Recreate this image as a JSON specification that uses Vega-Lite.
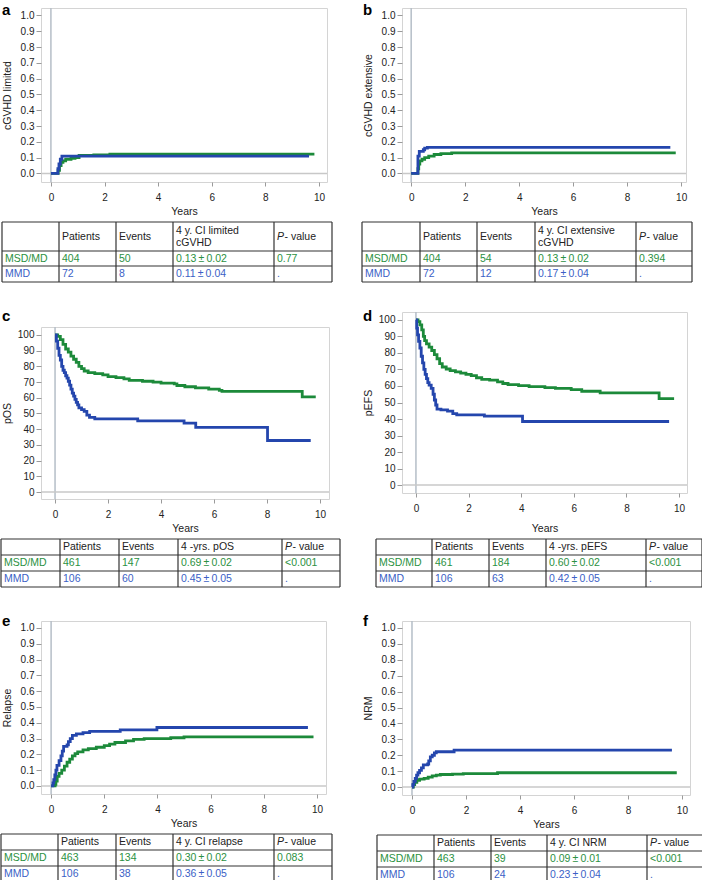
{
"$schema": "https://vega.github.io/schema/vega-lite/v6.json",
"background": "white",
"padding": {"left": 0, "top": 2, "right": 0, "bottom": 0},
"spacing": 20,
"resolve": {"scale": {"color": "independent"}},
"config": {
  "font": "Liberation Sans",
  "view": {"stroke": "#d4d4d4", "strokeWidth": 1},
  "axis": {"labelFont": "Liberation Sans", "titleFont": "Liberation Sans", "labelFontSize": 10, "titleFontSize": 10.5, "titleFontWeight": "normal", "labelColor": "#222", "titleColor": "#222", "domain": false, "grid": false, "tickColor": "#9a9a9a", "tickWidth": 1, "labelOverlap": false},
  "axisX": {"tickSize": 4, "labelPadding": 6, "titlePadding": 4},
  "axisY": {"tickSize": 5, "labelPadding": 2, "titlePadding": 5, "minExtent": 24, "maxExtent": 24},
  "title": {"font": "Liberation Sans", "fontSize": 15, "fontWeight": "bold", "color": "#000", "anchor": "start", "frame": "bounds", "baseline": "alphabetic", "offset": 0}
},
"datasets": {
  "one": [{"k": 1}],
  "vb": [{"b": 0}, {"b": 1}, {"b": 2}, {"b": 3}, {"b": 4}, {"b": 5}],
  "hb": [{"b": -0.5}, {"b": 0.5}, {"b": 1.5}, {"b": 2.5}],
  "cells": [
    {"p":"a","r":0,"c":1,"s":"Patients","k":"h"},{"p":"a","r":0,"c":2,"s":"Events","k":"h"},{"p":"a","r":0,"c":3,"s":"4 y. CI limited\ncGVHD","k":"h2"},{"p":"a","r":0,"c":4,"s":"P","k":"hi"},{"p":"a","r":0,"c":4,"s":"- value","k":"hv"},
    {"p":"a","r":1,"c":0,"s":"MSD/MD","k":"g"},{"p":"a","r":1,"c":1,"s":"404","k":"g"},{"p":"a","r":1,"c":2,"s":"50","k":"g"},{"p":"a","r":1,"c":3,"s":"0.13\u2009±\u20090.02","k":"g"},{"p":"a","r":1,"c":4,"s":"0.77","k":"g"},
    {"p":"a","r":2,"c":0,"s":"MMD","k":"b"},{"p":"a","r":2,"c":1,"s":"72","k":"b"},{"p":"a","r":2,"c":2,"s":"8","k":"b"},{"p":"a","r":2,"c":3,"s":"0.11\u2009±\u20090.04","k":"b"},{"p":"a","r":2,"c":4,"s":".","k":"b"},
    {"p":"b","r":0,"c":1,"s":"Patients","k":"h"},{"p":"b","r":0,"c":2,"s":"Events","k":"h"},{"p":"b","r":0,"c":3,"s":"4 y. CI extensive\ncGVHD","k":"h2"},{"p":"b","r":0,"c":4,"s":"P","k":"hi"},{"p":"b","r":0,"c":4,"s":"- value","k":"hv"},
    {"p":"b","r":1,"c":0,"s":"MSD/MD","k":"g"},{"p":"b","r":1,"c":1,"s":"404","k":"g"},{"p":"b","r":1,"c":2,"s":"54","k":"g"},{"p":"b","r":1,"c":3,"s":"0.13\u2009±\u20090.02","k":"g"},{"p":"b","r":1,"c":4,"s":"0.394","k":"g"},
    {"p":"b","r":2,"c":0,"s":"MMD","k":"b"},{"p":"b","r":2,"c":1,"s":"72","k":"b"},{"p":"b","r":2,"c":2,"s":"12","k":"b"},{"p":"b","r":2,"c":3,"s":"0.17\u2009±\u20090.04","k":"b"},{"p":"b","r":2,"c":4,"s":".","k":"b"},
    {"p":"c","r":0,"c":1,"s":"Patients","k":"h"},{"p":"c","r":0,"c":2,"s":"Events","k":"h"},{"p":"c","r":0,"c":3,"s":"4 -yrs. pOS","k":"h"},{"p":"c","r":0,"c":4,"s":"P","k":"hi"},{"p":"c","r":0,"c":4,"s":"- value","k":"hv"},
    {"p":"c","r":1,"c":0,"s":"MSD/MD","k":"g"},{"p":"c","r":1,"c":1,"s":"461","k":"g"},{"p":"c","r":1,"c":2,"s":"147","k":"g"},{"p":"c","r":1,"c":3,"s":"0.69\u2009±\u20090.02","k":"g"},{"p":"c","r":1,"c":4,"s":"<0.001","k":"g"},
    {"p":"c","r":2,"c":0,"s":"MMD","k":"b"},{"p":"c","r":2,"c":1,"s":"106","k":"b"},{"p":"c","r":2,"c":2,"s":"60","k":"b"},{"p":"c","r":2,"c":3,"s":"0.45\u2009±\u20090.05","k":"b"},{"p":"c","r":2,"c":4,"s":".","k":"b"},
    {"p":"d","r":0,"c":1,"s":"Patients","k":"h"},{"p":"d","r":0,"c":2,"s":"Events","k":"h"},{"p":"d","r":0,"c":3,"s":"4 -yrs. pEFS","k":"h"},{"p":"d","r":0,"c":4,"s":"P","k":"hi"},{"p":"d","r":0,"c":4,"s":"- value","k":"hv"},
    {"p":"d","r":1,"c":0,"s":"MSD/MD","k":"g"},{"p":"d","r":1,"c":1,"s":"461","k":"g"},{"p":"d","r":1,"c":2,"s":"184","k":"g"},{"p":"d","r":1,"c":3,"s":"0.60\u2009±\u20090.02","k":"g"},{"p":"d","r":1,"c":4,"s":"<0.001","k":"g"},
    {"p":"d","r":2,"c":0,"s":"MMD","k":"b"},{"p":"d","r":2,"c":1,"s":"106","k":"b"},{"p":"d","r":2,"c":2,"s":"63","k":"b"},{"p":"d","r":2,"c":3,"s":"0.42\u2009±\u20090.05","k":"b"},{"p":"d","r":2,"c":4,"s":".","k":"b"},
    {"p":"e","r":0,"c":1,"s":"Patients","k":"h"},{"p":"e","r":0,"c":2,"s":"Events","k":"h"},{"p":"e","r":0,"c":3,"s":"4 y. CI relapse","k":"h"},{"p":"e","r":0,"c":4,"s":"P","k":"hi"},{"p":"e","r":0,"c":4,"s":"- value","k":"hv"},
    {"p":"e","r":1,"c":0,"s":"MSD/MD","k":"g"},{"p":"e","r":1,"c":1,"s":"463","k":"g"},{"p":"e","r":1,"c":2,"s":"134","k":"g"},{"p":"e","r":1,"c":3,"s":"0.30\u2009±\u20090.02","k":"g"},{"p":"e","r":1,"c":4,"s":"0.083","k":"g"},
    {"p":"e","r":2,"c":0,"s":"MMD","k":"b"},{"p":"e","r":2,"c":1,"s":"106","k":"b"},{"p":"e","r":2,"c":2,"s":"38","k":"b"},{"p":"e","r":2,"c":3,"s":"0.36\u2009±\u20090.05","k":"b"},{"p":"e","r":2,"c":4,"s":".","k":"b"},
    {"p":"f","r":0,"c":1,"s":"Patients","k":"h"},{"p":"f","r":0,"c":2,"s":"Events","k":"h"},{"p":"f","r":0,"c":3,"s":"4 y. CI NRM","k":"h"},{"p":"f","r":0,"c":4,"s":"P","k":"hi"},{"p":"f","r":0,"c":4,"s":"- value","k":"hv"},
    {"p":"f","r":1,"c":0,"s":"MSD/MD","k":"g"},{"p":"f","r":1,"c":1,"s":"463","k":"g"},{"p":"f","r":1,"c":2,"s":"39","k":"g"},{"p":"f","r":1,"c":3,"s":"0.09\u2009±\u20090.01","k":"g"},{"p":"f","r":1,"c":4,"s":"<0.001","k":"g"},
    {"p":"f","r":2,"c":0,"s":"MMD","k":"b"},{"p":"f","r":2,"c":1,"s":"106","k":"b"},{"p":"f","r":2,"c":2,"s":"24","k":"b"},{"p":"f","r":2,"c":3,"s":"0.23\u2009±\u20090.04","k":"b"},{"p":"f","r":2,"c":4,"s":".","k":"b"}
  ],
  "curves": [
    {"p":"a","g":"MSD/MD","t":0,"v":0},{"p":"a","g":"MSD/MD","t":0.27,"v":0.02},{"p":"a","g":"MSD/MD","t":0.32,"v":0.05},{"p":"a","g":"MSD/MD","t":0.38,"v":0.07},{"p":"a","g":"MSD/MD","t":0.45,"v":0.08},{"p":"a","g":"MSD/MD","t":0.55,"v":0.09},{"p":"a","g":"MSD/MD","t":0.75,"v":0.095},{"p":"a","g":"MSD/MD","t":0.9,"v":0.1},{"p":"a","g":"MSD/MD","t":1.05,"v":0.115},{"p":"a","g":"MSD/MD","t":1.6,"v":0.118},{"p":"a","g":"MSD/MD","t":2.2,"v":0.123},{"p":"a","g":"MSD/MD","t":9.83,"v":0.123},
    {"p":"a","g":"MMD","t":0,"v":0},{"p":"a","g":"MMD","t":0.26,"v":0.03},{"p":"a","g":"MMD","t":0.3,"v":0.06},{"p":"a","g":"MMD","t":0.35,"v":0.09},{"p":"a","g":"MMD","t":0.41,"v":0.11},{"p":"a","g":"MMD","t":9.63,"v":0.11},
    {"p":"b","g":"MSD/MD","t":0,"v":0},{"p":"b","g":"MSD/MD","t":0.25,"v":0.03},{"p":"b","g":"MSD/MD","t":0.28,"v":0.06},{"p":"b","g":"MSD/MD","t":0.32,"v":0.08},{"p":"b","g":"MSD/MD","t":0.4,"v":0.09},{"p":"b","g":"MSD/MD","t":0.5,"v":0.1},{"p":"b","g":"MSD/MD","t":0.65,"v":0.11},{"p":"b","g":"MSD/MD","t":0.85,"v":0.12},{"p":"b","g":"MSD/MD","t":1.1,"v":0.125},{"p":"b","g":"MSD/MD","t":1.5,"v":0.13},{"p":"b","g":"MSD/MD","t":9.8,"v":0.13},
    {"p":"b","g":"MMD","t":0,"v":0},{"p":"b","g":"MMD","t":0.25,"v":0.11},{"p":"b","g":"MMD","t":0.3,"v":0.14},{"p":"b","g":"MMD","t":0.45,"v":0.15},{"p":"b","g":"MMD","t":0.5,"v":0.16},{"p":"b","g":"MMD","t":0.6,"v":0.165},{"p":"b","g":"MMD","t":9.6,"v":0.165},
    {"p":"c","g":"MSD/MD","t":0,"v":100},{"p":"c","g":"MSD/MD","t":0.1,"v":99},{"p":"c","g":"MSD/MD","t":0.2,"v":97},{"p":"c","g":"MSD/MD","t":0.3,"v":94},{"p":"c","g":"MSD/MD","t":0.4,"v":91},{"p":"c","g":"MSD/MD","t":0.5,"v":89},{"p":"c","g":"MSD/MD","t":0.6,"v":86.5},{"p":"c","g":"MSD/MD","t":0.7,"v":84.5},{"p":"c","g":"MSD/MD","t":0.8,"v":82.5},{"p":"c","g":"MSD/MD","t":0.9,"v":80},{"p":"c","g":"MSD/MD","t":1.0,"v":78.5},{"p":"c","g":"MSD/MD","t":1.1,"v":77},{"p":"c","g":"MSD/MD","t":1.25,"v":76},{"p":"c","g":"MSD/MD","t":1.5,"v":75.3},{"p":"c","g":"MSD/MD","t":1.8,"v":74.5},{"p":"c","g":"MSD/MD","t":2.0,"v":73.5},{"p":"c","g":"MSD/MD","t":2.3,"v":72.8},{"p":"c","g":"MSD/MD","t":2.6,"v":72},{"p":"c","g":"MSD/MD","t":2.8,"v":71},{"p":"c","g":"MSD/MD","t":3.3,"v":70.5},{"p":"c","g":"MSD/MD","t":3.7,"v":70},{"p":"c","g":"MSD/MD","t":4.0,"v":69.3},{"p":"c","g":"MSD/MD","t":4.5,"v":68.8},{"p":"c","g":"MSD/MD","t":4.6,"v":67.8},{"p":"c","g":"MSD/MD","t":4.9,"v":67},{"p":"c","g":"MSD/MD","t":5.3,"v":66.3},{"p":"c","g":"MSD/MD","t":5.8,"v":65.5},{"p":"c","g":"MSD/MD","t":6.2,"v":64.7},{"p":"c","g":"MSD/MD","t":6.3,"v":64},{"p":"c","g":"MSD/MD","t":9.33,"v":60.5},{"p":"c","g":"MSD/MD","t":9.84,"v":60.5},
    {"p":"c","g":"MMD","t":0,"v":100},{"p":"c","g":"MMD","t":0.05,"v":96},{"p":"c","g":"MMD","t":0.1,"v":91.5},{"p":"c","g":"MMD","t":0.15,"v":87},{"p":"c","g":"MMD","t":0.2,"v":84},{"p":"c","g":"MMD","t":0.25,"v":80},{"p":"c","g":"MMD","t":0.3,"v":77.5},{"p":"c","g":"MMD","t":0.35,"v":76},{"p":"c","g":"MMD","t":0.4,"v":74},{"p":"c","g":"MMD","t":0.45,"v":72.5},{"p":"c","g":"MMD","t":0.5,"v":70.5},{"p":"c","g":"MMD","t":0.55,"v":68},{"p":"c","g":"MMD","t":0.6,"v":65.5},{"p":"c","g":"MMD","t":0.65,"v":63},{"p":"c","g":"MMD","t":0.7,"v":61},{"p":"c","g":"MMD","t":0.75,"v":59},{"p":"c","g":"MMD","t":0.8,"v":57},{"p":"c","g":"MMD","t":0.85,"v":55.5},{"p":"c","g":"MMD","t":0.9,"v":53.5},{"p":"c","g":"MMD","t":1.0,"v":52.5},{"p":"c","g":"MMD","t":1.1,"v":51.3},{"p":"c","g":"MMD","t":1.2,"v":49},{"p":"c","g":"MMD","t":1.3,"v":47.5},{"p":"c","g":"MMD","t":1.5,"v":46.6},{"p":"c","g":"MMD","t":3.12,"v":45.3},{"p":"c","g":"MMD","t":4.87,"v":43.9},{"p":"c","g":"MMD","t":5.31,"v":41.1},{"p":"c","g":"MMD","t":8.02,"v":32.8},{"p":"c","g":"MMD","t":9.65,"v":32.8},
    {"p":"d","g":"MSD/MD","t":0,"v":100},{"p":"d","g":"MSD/MD","t":0.08,"v":99},{"p":"d","g":"MSD/MD","t":0.15,"v":97},{"p":"d","g":"MSD/MD","t":0.22,"v":94},{"p":"d","g":"MSD/MD","t":0.28,"v":90},{"p":"d","g":"MSD/MD","t":0.33,"v":87.5},{"p":"d","g":"MSD/MD","t":0.4,"v":85.5},{"p":"d","g":"MSD/MD","t":0.5,"v":83.5},{"p":"d","g":"MSD/MD","t":0.6,"v":81.5},{"p":"d","g":"MSD/MD","t":0.7,"v":79},{"p":"d","g":"MSD/MD","t":0.8,"v":76.5},{"p":"d","g":"MSD/MD","t":0.9,"v":73.5},{"p":"d","g":"MSD/MD","t":1.0,"v":71.5},{"p":"d","g":"MSD/MD","t":1.15,"v":70.3},{"p":"d","g":"MSD/MD","t":1.3,"v":69.3},{"p":"d","g":"MSD/MD","t":1.5,"v":68.5},{"p":"d","g":"MSD/MD","t":1.7,"v":67.8},{"p":"d","g":"MSD/MD","t":1.9,"v":67},{"p":"d","g":"MSD/MD","t":2.1,"v":66.3},{"p":"d","g":"MSD/MD","t":2.3,"v":65},{"p":"d","g":"MSD/MD","t":2.5,"v":64},{"p":"d","g":"MSD/MD","t":2.8,"v":63.5},{"p":"d","g":"MSD/MD","t":3.1,"v":62.5},{"p":"d","g":"MSD/MD","t":3.3,"v":61.5},{"p":"d","g":"MSD/MD","t":3.5,"v":60.8},{"p":"d","g":"MSD/MD","t":3.9,"v":60.2},{"p":"d","g":"MSD/MD","t":4.3,"v":59.6},{"p":"d","g":"MSD/MD","t":4.9,"v":59},{"p":"d","g":"MSD/MD","t":5.3,"v":58.5},{"p":"d","g":"MSD/MD","t":5.9,"v":57.8},{"p":"d","g":"MSD/MD","t":6.3,"v":56.8},{"p":"d","g":"MSD/MD","t":7.0,"v":55.8},{"p":"d","g":"MSD/MD","t":9.24,"v":52.3},{"p":"d","g":"MSD/MD","t":9.81,"v":52.3},
    {"p":"d","g":"MMD","t":0,"v":100},{"p":"d","g":"MMD","t":0.03,"v":95},{"p":"d","g":"MMD","t":0.06,"v":91},{"p":"d","g":"MMD","t":0.1,"v":87},{"p":"d","g":"MMD","t":0.15,"v":83},{"p":"d","g":"MMD","t":0.2,"v":78},{"p":"d","g":"MMD","t":0.25,"v":74},{"p":"d","g":"MMD","t":0.3,"v":70},{"p":"d","g":"MMD","t":0.35,"v":67},{"p":"d","g":"MMD","t":0.4,"v":64.5},{"p":"d","g":"MMD","t":0.45,"v":62},{"p":"d","g":"MMD","t":0.5,"v":60.5},{"p":"d","g":"MMD","t":0.58,"v":58.5},{"p":"d","g":"MMD","t":0.65,"v":55},{"p":"d","g":"MMD","t":0.7,"v":51.5},{"p":"d","g":"MMD","t":0.75,"v":48.5},{"p":"d","g":"MMD","t":0.8,"v":46},{"p":"d","g":"MMD","t":0.95,"v":45.5},{"p":"d","g":"MMD","t":1.2,"v":44.8},{"p":"d","g":"MMD","t":1.4,"v":43.3},{"p":"d","g":"MMD","t":1.55,"v":42.5},{"p":"d","g":"MMD","t":2.6,"v":41.8},{"p":"d","g":"MMD","t":4.05,"v":38.5},{"p":"d","g":"MMD","t":9.62,"v":38.5},
    {"p":"e","g":"MSD/MD","t":0,"v":0},{"p":"e","g":"MSD/MD","t":0.15,"v":0.01},{"p":"e","g":"MSD/MD","t":0.18,"v":0.03},{"p":"e","g":"MSD/MD","t":0.23,"v":0.06},{"p":"e","g":"MSD/MD","t":0.3,"v":0.08},{"p":"e","g":"MSD/MD","t":0.4,"v":0.1},{"p":"e","g":"MSD/MD","t":0.5,"v":0.125},{"p":"e","g":"MSD/MD","t":0.6,"v":0.15},{"p":"e","g":"MSD/MD","t":0.7,"v":0.17},{"p":"e","g":"MSD/MD","t":0.8,"v":0.19},{"p":"e","g":"MSD/MD","t":0.9,"v":0.205},{"p":"e","g":"MSD/MD","t":1.0,"v":0.215},{"p":"e","g":"MSD/MD","t":1.2,"v":0.228},{"p":"e","g":"MSD/MD","t":1.4,"v":0.236},{"p":"e","g":"MSD/MD","t":1.7,"v":0.245},{"p":"e","g":"MSD/MD","t":2.0,"v":0.255},{"p":"e","g":"MSD/MD","t":2.2,"v":0.265},{"p":"e","g":"MSD/MD","t":2.4,"v":0.275},{"p":"e","g":"MSD/MD","t":2.8,"v":0.285},{"p":"e","g":"MSD/MD","t":3.1,"v":0.295},{"p":"e","g":"MSD/MD","t":3.5,"v":0.3},{"p":"e","g":"MSD/MD","t":4.5,"v":0.305},{"p":"e","g":"MSD/MD","t":5.0,"v":0.31},{"p":"e","g":"MSD/MD","t":9.87,"v":0.31},
    {"p":"e","g":"MMD","t":0,"v":0},{"p":"e","g":"MMD","t":0.07,"v":0.02},{"p":"e","g":"MMD","t":0.1,"v":0.04},{"p":"e","g":"MMD","t":0.14,"v":0.07},{"p":"e","g":"MMD","t":0.18,"v":0.1},{"p":"e","g":"MMD","t":0.22,"v":0.13},{"p":"e","g":"MMD","t":0.3,"v":0.16},{"p":"e","g":"MMD","t":0.37,"v":0.19},{"p":"e","g":"MMD","t":0.42,"v":0.22},{"p":"e","g":"MMD","t":0.47,"v":0.25},{"p":"e","g":"MMD","t":0.6,"v":0.26},{"p":"e","g":"MMD","t":0.65,"v":0.28},{"p":"e","g":"MMD","t":0.72,"v":0.3},{"p":"e","g":"MMD","t":0.8,"v":0.32},{"p":"e","g":"MMD","t":0.95,"v":0.33},{"p":"e","g":"MMD","t":1.2,"v":0.338},{"p":"e","g":"MMD","t":1.45,"v":0.345},{"p":"e","g":"MMD","t":2.6,"v":0.355},{"p":"e","g":"MMD","t":3.98,"v":0.37},{"p":"e","g":"MMD","t":9.66,"v":0.37},
    {"p":"f","g":"MSD/MD","t":0,"v":0},{"p":"f","g":"MSD/MD","t":0.05,"v":0.015},{"p":"f","g":"MSD/MD","t":0.1,"v":0.03},{"p":"f","g":"MSD/MD","t":0.18,"v":0.042},{"p":"f","g":"MSD/MD","t":0.28,"v":0.05},{"p":"f","g":"MSD/MD","t":0.45,"v":0.055},{"p":"f","g":"MSD/MD","t":0.6,"v":0.063},{"p":"f","g":"MSD/MD","t":0.75,"v":0.07},{"p":"f","g":"MSD/MD","t":0.9,"v":0.075},{"p":"f","g":"MSD/MD","t":1.05,"v":0.079},{"p":"f","g":"MSD/MD","t":1.5,"v":0.081},{"p":"f","g":"MSD/MD","t":1.9,"v":0.085},{"p":"f","g":"MSD/MD","t":3.17,"v":0.09},{"p":"f","g":"MSD/MD","t":9.81,"v":0.09},
    {"p":"f","g":"MMD","t":0,"v":0},{"p":"f","g":"MMD","t":0.03,"v":0.015},{"p":"f","g":"MMD","t":0.07,"v":0.035},{"p":"f","g":"MMD","t":0.12,"v":0.055},{"p":"f","g":"MMD","t":0.17,"v":0.075},{"p":"f","g":"MMD","t":0.22,"v":0.09},{"p":"f","g":"MMD","t":0.28,"v":0.105},{"p":"f","g":"MMD","t":0.35,"v":0.12},{"p":"f","g":"MMD","t":0.42,"v":0.14},{"p":"f","g":"MMD","t":0.58,"v":0.145},{"p":"f","g":"MMD","t":0.62,"v":0.165},{"p":"f","g":"MMD","t":0.68,"v":0.19},{"p":"f","g":"MMD","t":0.75,"v":0.2},{"p":"f","g":"MMD","t":0.83,"v":0.215},{"p":"f","g":"MMD","t":0.9,"v":0.222},{"p":"f","g":"MMD","t":1.56,"v":0.232},{"p":"f","g":"MMD","t":9.63,"v":0.232}
  ]
},
"hconcat": [
{"spacing": 25, "resolve": {"scale": {"color": "independent"}}, "vconcat": [
  {"spacing": 4, "resolve": {"scale": {"color": "independent"}}, "vconcat": [
    {"width": 286, "height": 174, "title": {"text": "a", "dy": 15},
     "resolve": {"axis": {"x": "independent", "y": "independent"}},
     "layer": [
      {"data": {"name": "one"}, "mark": {"type": "rule", "color": "#b5bec7", "strokeWidth": 1.5}, "encoding": {"x": {"datum": 0, "type": "quantitative", "scale": {"domain": [-0.37, 10.3], "nice": false, "zero": false}, "axis": null}}},
      {"data": {"name": "one"}, "mark": {"type": "rule", "color": "#c8c8c8", "strokeWidth": 1.5}, "encoding": {"y": {"datum": 0, "type": "quantitative", "scale": {"domain": [-0.054, 1.047], "nice": false, "zero": false}, "axis": null}}},
      {"data": {"name": "curves"}, "transform": [{"filter": "datum.p==='a'"}], "mark": {"type": "line", "interpolate": "step-after", "strokeWidth": 2.8},
       "encoding": {
        "x": {"field": "t", "type": "quantitative", "scale": {"domain": [-0.37, 10.3], "nice": false, "zero": false}, "axis": {"title": "Years", "values": [0, 2, 4, 6, 8, 10], "tickCount": 6, "format": "d", "titleFontWeight": "normal"}},
        "y": {"field": "v", "type": "quantitative", "scale": {"domain": [-0.054, 1.047], "nice": false, "zero": false}, "axis": {"title": "cGVHD limited", "values": [0, 0.1, 0.2, 0.3, 0.4, 0.5, 0.6, 0.7, 0.8, 0.9, 1.0], "tickCount": 11, "format": ".1f", "labelOverlap": false, "titleFontWeight": "normal"}},
        "color": {"field": "g", "type": "nominal", "scale": {"domain": ["MSD/MD", "MMD"], "range": ["#1c8a3a", "#2446ad"]}, "legend": null}}}
     ]},
    {"width": 291, "height": 60, "view": {"stroke": null},
     "layer": [
      {"data": {"name": "vb"}, "mark": {"type": "rule", "color": "#333", "strokeWidth": 1.2},
       "encoding": {"x": {"field": "b", "type": "quantitative", "scale": {"domain": [0,1,2,3,4,5], "range": [-39,18,75,132,233,291], "nice": false, "zero": false}, "axis": null},
                    "y": {"datum": -0.5, "type": "quantitative", "scale": {"domain": [-0.5,0.5,1.5,2.5], "range": [0,29,44,60], "nice": false, "zero": false}, "axis": null}, "y2": {"datum": 2.5}}},
      {"data": {"name": "hb"}, "mark": {"type": "rule", "color": "#333", "strokeWidth": 1.2},
       "encoding": {"y": {"field": "b", "type": "quantitative", "scale": {"domain": [-0.5,0.5,1.5,2.5], "range": [0,29,44,60], "nice": false, "zero": false}, "axis": null},
                    "x": {"datum": 0, "type": "quantitative", "scale": {"domain": [0,1,2,3,4,5], "range": [-39,18,75,132,233,291], "nice": false, "zero": false}, "axis": null}, "x2": {"datum": 5}}},
      {"data": {"name": "cells"}, "transform": [{"filter": "datum.p==='a' && (datum.k==='h' || datum.k==='g' || datum.k==='b')"}],
       "mark": {"type": "text", "align": "left", "baseline": "middle", "dx": 3, "fontSize": 10.5},
       "encoding": {"x": {"field": "c", "type": "quantitative", "scale": {"domain": [0,1,2,3,4,5], "range": [-39,18,75,132,233,291], "nice": false, "zero": false}, "axis": null},
                    "y": {"field": "r", "type": "quantitative", "scale": {"domain": [-0.5,0.5,1.5,2.5], "range": [0,29,44,60], "nice": false, "zero": false}, "axis": null},
                    "text": {"field": "s"}, "color": {"field": "k", "type": "nominal", "scale": {"domain": ["h", "g", "b"], "range": ["#222222", "#2b9142", "#3b5fc6"]}, "legend": null}}},
      {"data": {"name": "cells"}, "transform": [{"filter": "datum.p==='a' && datum.k==='h2'"}],
       "mark": {"type": "text", "align": "left", "baseline": "middle", "dx": 3, "dy": -6, "fontSize": 10.5, "lineBreak": "\n", "lineHeight": 12, "color": "#222"},
       "encoding": {"x": {"field": "c", "type": "quantitative", "scale": {"domain": [0,1,2,3,4,5], "range": [-39,18,75,132,233,291], "nice": false, "zero": false}, "axis": null},
                    "y": {"field": "r", "type": "quantitative", "scale": {"domain": [-0.5,0.5,1.5,2.5], "range": [0,29,44,60], "nice": false, "zero": false}, "axis": null}, "text": {"field": "s"}}},
      {"data": {"name": "cells"}, "transform": [{"filter": "datum.p==='a' && datum.k==='hi'"}],
       "mark": {"type": "text", "align": "left", "baseline": "middle", "dx": 3, "fontSize": 10.5, "fontStyle": "italic", "color": "#222"},
       "encoding": {"x": {"field": "c", "type": "quantitative", "scale": {"domain": [0,1,2,3,4,5], "range": [-39,18,75,132,233,291], "nice": false, "zero": false}, "axis": null},
                    "y": {"field": "r", "type": "quantitative", "scale": {"domain": [-0.5,0.5,1.5,2.5], "range": [0,29,44,60], "nice": false, "zero": false}, "axis": null}, "text": {"field": "s"}}},
      {"data": {"name": "cells"}, "transform": [{"filter": "datum.p==='a' && datum.k==='hv'"}],
       "mark": {"type": "text", "align": "left", "baseline": "middle", "dx": 10.5, "fontSize": 10.5, "color": "#222"},
       "encoding": {"x": {"field": "c", "type": "quantitative", "scale": {"domain": [0,1,2,3,4,5], "range": [-39,18,75,132,233,291], "nice": false, "zero": false}, "axis": null},
                    "y": {"field": "r", "type": "quantitative", "scale": {"domain": [-0.5,0.5,1.5,2.5], "range": [0,29,44,60], "nice": false, "zero": false}, "axis": null}, "text": {"field": "s"}}}
     ]}
  ]},
  {"spacing": 4, "resolve": {"scale": {"color": "independent"}}, "vconcat": [
    {"width": 288, "height": 172, "title": {"text": "c", "dy": 2},
     "resolve": {"axis": {"x": "independent", "y": "independent"}},
     "layer": [
      {"data": {"name": "one"}, "mark": {"type": "rule", "color": "#b5bec7", "strokeWidth": 1.5}, "encoding": {"x": {"datum": 0, "type": "quantitative", "scale": {"domain": [-0.53, 10.34], "nice": false, "zero": false}, "axis": null}}},
      {"data": {"name": "one"}, "mark": {"type": "rule", "color": "#c8c8c8", "strokeWidth": 1.5}, "encoding": {"y": {"datum": 0, "type": "quantitative", "scale": {"domain": [-4.4, 105], "nice": false, "zero": false}, "axis": null}}},
      {"data": {"name": "curves"}, "transform": [{"filter": "datum.p==='c'"}], "mark": {"type": "line", "interpolate": "step-after", "strokeWidth": 2.8},
       "encoding": {
        "x": {"field": "t", "type": "quantitative", "scale": {"domain": [-0.53, 10.34], "nice": false, "zero": false}, "axis": {"title": "Years", "values": [0, 2, 4, 6, 8, 10], "tickCount": 6, "format": "d", "titleFontWeight": "normal"}},
        "y": {"field": "v", "type": "quantitative", "scale": {"domain": [-4.4, 105], "nice": false, "zero": false}, "axis": {"title": "pOS", "values": [0, 10, 20, 30, 40, 50, 60, 70, 80, 90, 100], "tickCount": 11, "format": "d", "labelOverlap": false, "titleFontWeight": "normal"}},
        "color": {"field": "g", "type": "nominal", "scale": {"domain": ["MSD/MD", "MMD"], "range": ["#1c8a3a", "#2446ad"]}, "legend": null}}}
     ]},
    {"width": 299, "height": 48, "view": {"stroke": null},
     "layer": [
      {"data": {"name": "vb"}, "mark": {"type": "rule", "color": "#333", "strokeWidth": 1.2},
       "encoding": {"x": {"field": "b", "type": "quantitative", "scale": {"domain": [0,1,2,3,4,5], "range": [-40,19,78,137,241,299], "nice": false, "zero": false}, "axis": null},
                    "y": {"datum": -0.5, "type": "quantitative", "scale": {"domain": [-0.5,2.5], "range": [0,48], "nice": false, "zero": false}, "axis": null}, "y2": {"datum": 2.5}}},
      {"data": {"name": "hb"}, "mark": {"type": "rule", "color": "#333", "strokeWidth": 1.2},
       "encoding": {"y": {"field": "b", "type": "quantitative", "scale": {"domain": [-0.5,2.5], "range": [0,48], "nice": false, "zero": false}, "axis": null},
                    "x": {"datum": 0, "type": "quantitative", "scale": {"domain": [0,1,2,3,4,5], "range": [-40,19,78,137,241,299], "nice": false, "zero": false}, "axis": null}, "x2": {"datum": 5}}},
      {"data": {"name": "cells"}, "transform": [{"filter": "datum.p==='c' && (datum.k==='h' || datum.k==='g' || datum.k==='b')"}],
       "mark": {"type": "text", "align": "left", "baseline": "middle", "dx": 3, "fontSize": 10.5},
       "encoding": {"x": {"field": "c", "type": "quantitative", "scale": {"domain": [0,1,2,3,4,5], "range": [-40,19,78,137,241,299], "nice": false, "zero": false}, "axis": null},
                    "y": {"field": "r", "type": "quantitative", "scale": {"domain": [-0.5,2.5], "range": [0,48], "nice": false, "zero": false}, "axis": null},
                    "text": {"field": "s"}, "color": {"field": "k", "type": "nominal", "scale": {"domain": ["h", "g", "b"], "range": ["#222222", "#2b9142", "#3b5fc6"]}, "legend": null}}},
      {"data": {"name": "cells"}, "transform": [{"filter": "datum.p==='c' && datum.k==='hi'"}],
       "mark": {"type": "text", "align": "left", "baseline": "middle", "dx": 3, "fontSize": 10.5, "fontStyle": "italic", "color": "#222"},
       "encoding": {"x": {"field": "c", "type": "quantitative", "scale": {"domain": [0,1,2,3,4,5], "range": [-40,19,78,137,241,299], "nice": false, "zero": false}, "axis": null},
                    "y": {"field": "r", "type": "quantitative", "scale": {"domain": [-0.5,2.5], "range": [0,48], "nice": false, "zero": false}, "axis": null}, "text": {"field": "s"}}},
      {"data": {"name": "cells"}, "transform": [{"filter": "datum.p==='c' && datum.k==='hv'"}],
       "mark": {"type": "text", "align": "left", "baseline": "middle", "dx": 10.5, "fontSize": 10.5, "color": "#222"},
       "encoding": {"x": {"field": "c", "type": "quantitative", "scale": {"domain": [0,1,2,3,4,5], "range": [-40,19,78,137,241,299], "nice": false, "zero": false}, "axis": null},
                    "y": {"field": "r", "type": "quantitative", "scale": {"domain": [-0.5,2.5], "range": [0,48], "nice": false, "zero": false}, "axis": null}, "text": {"field": "s"}}}
     ]}
  ]},
  {"spacing": 4, "resolve": {"scale": {"color": "independent"}}, "vconcat": [
    {"width": 285, "height": 173, "title": {"text": "e", "dy": 13},
     "resolve": {"axis": {"x": "independent", "y": "independent"}},
     "layer": [
      {"data": {"name": "one"}, "mark": {"type": "rule", "color": "#b5bec7", "strokeWidth": 1.5}, "encoding": {"x": {"datum": 0, "type": "quantitative", "scale": {"domain": [-0.38, 10.34], "nice": false, "zero": false}, "axis": null}}},
      {"data": {"name": "one"}, "mark": {"type": "rule", "color": "#c8c8c8", "strokeWidth": 1.5}, "encoding": {"y": {"datum": 0, "type": "quantitative", "scale": {"domain": [-0.051, 1.044], "nice": false, "zero": false}, "axis": null}}},
      {"data": {"name": "curves"}, "transform": [{"filter": "datum.p==='e'"}], "mark": {"type": "line", "interpolate": "step-after", "strokeWidth": 2.8},
       "encoding": {
        "x": {"field": "t", "type": "quantitative", "scale": {"domain": [-0.38, 10.34], "nice": false, "zero": false}, "axis": {"title": "Years", "values": [0, 2, 4, 6, 8, 10], "tickCount": 6, "format": "d", "titleFontWeight": "normal"}},
        "y": {"field": "v", "type": "quantitative", "scale": {"domain": [-0.051, 1.044], "nice": false, "zero": false}, "axis": {"title": "Relapse", "values": [0, 0.1, 0.2, 0.3, 0.4, 0.5, 0.6, 0.7, 0.8, 0.9, 1.0], "tickCount": 11, "format": ".1f", "labelOverlap": false, "titleFontWeight": "normal"}},
        "color": {"field": "g", "type": "nominal", "scale": {"domain": ["MSD/MD", "MMD"], "range": ["#1c8a3a", "#2446ad"]}, "legend": null}}}
     ]},
    {"width": 291, "height": 48, "view": {"stroke": null},
     "layer": [
      {"data": {"name": "vb"}, "mark": {"type": "rule", "color": "#333", "strokeWidth": 1.2},
       "encoding": {"x": {"field": "b", "type": "quantitative", "scale": {"domain": [0,1,2,3,4,5], "range": [-40,17,75,132,233,291], "nice": false, "zero": false}, "axis": null},
                    "y": {"datum": -0.5, "type": "quantitative", "scale": {"domain": [-0.5,2.5], "range": [0,48], "nice": false, "zero": false}, "axis": null}, "y2": {"datum": 2.5}}},
      {"data": {"name": "hb"}, "mark": {"type": "rule", "color": "#333", "strokeWidth": 1.2},
       "encoding": {"y": {"field": "b", "type": "quantitative", "scale": {"domain": [-0.5,2.5], "range": [0,48], "nice": false, "zero": false}, "axis": null},
                    "x": {"datum": 0, "type": "quantitative", "scale": {"domain": [0,1,2,3,4,5], "range": [-40,17,75,132,233,291], "nice": false, "zero": false}, "axis": null}, "x2": {"datum": 5}}},
      {"data": {"name": "cells"}, "transform": [{"filter": "datum.p==='e' && (datum.k==='h' || datum.k==='g' || datum.k==='b')"}],
       "mark": {"type": "text", "align": "left", "baseline": "middle", "dx": 3, "fontSize": 10.5},
       "encoding": {"x": {"field": "c", "type": "quantitative", "scale": {"domain": [0,1,2,3,4,5], "range": [-40,17,75,132,233,291], "nice": false, "zero": false}, "axis": null},
                    "y": {"field": "r", "type": "quantitative", "scale": {"domain": [-0.5,2.5], "range": [0,48], "nice": false, "zero": false}, "axis": null},
                    "text": {"field": "s"}, "color": {"field": "k", "type": "nominal", "scale": {"domain": ["h", "g", "b"], "range": ["#222222", "#2b9142", "#3b5fc6"]}, "legend": null}}},
      {"data": {"name": "cells"}, "transform": [{"filter": "datum.p==='e' && datum.k==='hi'"}],
       "mark": {"type": "text", "align": "left", "baseline": "middle", "dx": 3, "fontSize": 10.5, "fontStyle": "italic", "color": "#222"},
       "encoding": {"x": {"field": "c", "type": "quantitative", "scale": {"domain": [0,1,2,3,4,5], "range": [-40,17,75,132,233,291], "nice": false, "zero": false}, "axis": null},
                    "y": {"field": "r", "type": "quantitative", "scale": {"domain": [-0.5,2.5], "range": [0,48], "nice": false, "zero": false}, "axis": null}, "text": {"field": "s"}}},
      {"data": {"name": "cells"}, "transform": [{"filter": "datum.p==='e' && datum.k==='hv'"}],
       "mark": {"type": "text", "align": "left", "baseline": "middle", "dx": 10.5, "fontSize": 10.5, "color": "#222"},
       "encoding": {"x": {"field": "c", "type": "quantitative", "scale": {"domain": [0,1,2,3,4,5], "range": [-40,17,75,132,233,291], "nice": false, "zero": false}, "axis": null},
                    "y": {"field": "r", "type": "quantitative", "scale": {"domain": [-0.5,2.5], "range": [0,48], "nice": false, "zero": false}, "axis": null}, "text": {"field": "s"}}}
     ]}
  ]}
]},
{"spacing": 25, "resolve": {"scale": {"color": "independent"}}, "vconcat": [
  {"spacing": 4, "resolve": {"scale": {"color": "independent"}}, "vconcat": [
    {"width": 284, "height": 174, "title": {"text": "b", "dy": 15},
     "resolve": {"axis": {"x": "independent", "y": "independent"}},
     "layer": [
      {"data": {"name": "one"}, "mark": {"type": "rule", "color": "#b5bec7", "strokeWidth": 1.5}, "encoding": {"x": {"datum": 0, "type": "quantitative", "scale": {"domain": [-0.34, 10.18], "nice": false, "zero": false}, "axis": null}}},
      {"data": {"name": "one"}, "mark": {"type": "rule", "color": "#c8c8c8", "strokeWidth": 1.5}, "encoding": {"y": {"datum": 0, "type": "quantitative", "scale": {"domain": [-0.054, 1.047], "nice": false, "zero": false}, "axis": null}}},
      {"data": {"name": "curves"}, "transform": [{"filter": "datum.p==='b'"}], "mark": {"type": "line", "interpolate": "step-after", "strokeWidth": 2.8},
       "encoding": {
        "x": {"field": "t", "type": "quantitative", "scale": {"domain": [-0.34, 10.18], "nice": false, "zero": false}, "axis": {"title": "Years", "values": [0, 2, 4, 6, 8, 10], "tickCount": 6, "format": "d", "titleFontWeight": "normal"}},
        "y": {"field": "v", "type": "quantitative", "scale": {"domain": [-0.054, 1.047], "nice": false, "zero": false}, "axis": {"title": "cGVHD extensive", "values": [0, 0.1, 0.2, 0.3, 0.4, 0.5, 0.6, 0.7, 0.8, 0.9, 1.0], "tickCount": 11, "format": ".1f", "labelOverlap": false, "titleFontWeight": "normal"}},
        "color": {"field": "g", "type": "nominal", "scale": {"domain": ["MSD/MD", "MMD"], "range": ["#1c8a3a", "#2446ad"]}, "legend": null}}}
     ]},
    {"width": 290, "height": 60, "view": {"stroke": null},
     "layer": [
      {"data": {"name": "vb"}, "mark": {"type": "rule", "color": "#333", "strokeWidth": 1.2},
       "encoding": {"x": {"field": "b", "type": "quantitative", "scale": {"domain": [0,1,2,3,4,5], "range": [-40,18,75,133,234,290], "nice": false, "zero": false}, "axis": null},
                    "y": {"datum": -0.5, "type": "quantitative", "scale": {"domain": [-0.5,0.5,1.5,2.5], "range": [0,29,44,60], "nice": false, "zero": false}, "axis": null}, "y2": {"datum": 2.5}}},
      {"data": {"name": "hb"}, "mark": {"type": "rule", "color": "#333", "strokeWidth": 1.2},
       "encoding": {"y": {"field": "b", "type": "quantitative", "scale": {"domain": [-0.5,0.5,1.5,2.5], "range": [0,29,44,60], "nice": false, "zero": false}, "axis": null},
                    "x": {"datum": 0, "type": "quantitative", "scale": {"domain": [0,1,2,3,4,5], "range": [-40,18,75,133,234,290], "nice": false, "zero": false}, "axis": null}, "x2": {"datum": 5}}},
      {"data": {"name": "cells"}, "transform": [{"filter": "datum.p==='b' && (datum.k==='h' || datum.k==='g' || datum.k==='b')"}],
       "mark": {"type": "text", "align": "left", "baseline": "middle", "dx": 3, "fontSize": 10.5},
       "encoding": {"x": {"field": "c", "type": "quantitative", "scale": {"domain": [0,1,2,3,4,5], "range": [-40,18,75,133,234,290], "nice": false, "zero": false}, "axis": null},
                    "y": {"field": "r", "type": "quantitative", "scale": {"domain": [-0.5,0.5,1.5,2.5], "range": [0,29,44,60], "nice": false, "zero": false}, "axis": null},
                    "text": {"field": "s"}, "color": {"field": "k", "type": "nominal", "scale": {"domain": ["h", "g", "b"], "range": ["#222222", "#2b9142", "#3b5fc6"]}, "legend": null}}},
      {"data": {"name": "cells"}, "transform": [{"filter": "datum.p==='b' && datum.k==='h2'"}],
       "mark": {"type": "text", "align": "left", "baseline": "middle", "dx": 3, "dy": -6, "fontSize": 10.5, "lineBreak": "\n", "lineHeight": 12, "color": "#222"},
       "encoding": {"x": {"field": "c", "type": "quantitative", "scale": {"domain": [0,1,2,3,4,5], "range": [-40,18,75,133,234,290], "nice": false, "zero": false}, "axis": null},
                    "y": {"field": "r", "type": "quantitative", "scale": {"domain": [-0.5,0.5,1.5,2.5], "range": [0,29,44,60], "nice": false, "zero": false}, "axis": null}, "text": {"field": "s"}}},
      {"data": {"name": "cells"}, "transform": [{"filter": "datum.p==='b' && datum.k==='hi'"}],
       "mark": {"type": "text", "align": "left", "baseline": "middle", "dx": 3, "fontSize": 10.5, "fontStyle": "italic", "color": "#222"},
       "encoding": {"x": {"field": "c", "type": "quantitative", "scale": {"domain": [0,1,2,3,4,5], "range": [-40,18,75,133,234,290], "nice": false, "zero": false}, "axis": null},
                    "y": {"field": "r", "type": "quantitative", "scale": {"domain": [-0.5,0.5,1.5,2.5], "range": [0,29,44,60], "nice": false, "zero": false}, "axis": null}, "text": {"field": "s"}}},
      {"data": {"name": "cells"}, "transform": [{"filter": "datum.p==='b' && datum.k==='hv'"}],
       "mark": {"type": "text", "align": "left", "baseline": "middle", "dx": 10.5, "fontSize": 10.5, "color": "#222"},
       "encoding": {"x": {"field": "c", "type": "quantitative", "scale": {"domain": [0,1,2,3,4,5], "range": [-40,18,75,133,234,290], "nice": false, "zero": false}, "axis": null},
                    "y": {"field": "r", "type": "quantitative", "scale": {"domain": [-0.5,0.5,1.5,2.5], "range": [0,29,44,60], "nice": false, "zero": false}, "axis": null}, "text": {"field": "s"}}}
     ]}
  ]},
  {"spacing": 4, "resolve": {"scale": {"color": "independent"}}, "vconcat": [
    {"width": 285, "height": 181, "title": {"text": "d", "dy": 17},
     "resolve": {"axis": {"x": "independent", "y": "independent"}},
     "layer": [
      {"data": {"name": "one"}, "mark": {"type": "rule", "color": "#b5bec7", "strokeWidth": 1.5}, "encoding": {"x": {"datum": 0, "type": "quantitative", "scale": {"domain": [-0.53, 10.3], "nice": false, "zero": false}, "axis": null}}},
      {"data": {"name": "one"}, "mark": {"type": "rule", "color": "#c8c8c8", "strokeWidth": 1.5}, "encoding": {"y": {"datum": 0, "type": "quantitative", "scale": {"domain": [-4.8, 104.8], "nice": false, "zero": false}, "axis": null}}},
      {"data": {"name": "curves"}, "transform": [{"filter": "datum.p==='d'"}], "mark": {"type": "line", "interpolate": "step-after", "strokeWidth": 2.8},
       "encoding": {
        "x": {"field": "t", "type": "quantitative", "scale": {"domain": [-0.53, 10.3], "nice": false, "zero": false}, "axis": {"title": "Years", "values": [0, 2, 4, 6, 8, 10], "tickCount": 6, "format": "d", "titlePadding": 10, "titleFontWeight": "normal"}},
        "y": {"field": "v", "type": "quantitative", "scale": {"domain": [-4.8, 104.8], "nice": false, "zero": false}, "axis": {"title": "pEFS", "values": [0, 10, 20, 30, 40, 50, 60, 70, 80, 90, 100], "tickCount": 11, "format": "d", "labelOverlap": false, "titleFontWeight": "normal"}},
        "color": {"field": "g", "type": "nominal", "scale": {"domain": ["MSD/MD", "MMD"], "range": ["#1c8a3a", "#2446ad"]}, "legend": null}}}
     ]},
    {"width": 300, "height": 48, "view": {"stroke": null},
     "layer": [
      {"data": {"name": "vb"}, "mark": {"type": "rule", "color": "#333", "strokeWidth": 1.2},
       "encoding": {"x": {"field": "b", "type": "quantitative", "scale": {"domain": [0,1,2,3,4,5], "range": [-26,30,87,144,244,300], "nice": false, "zero": false}, "axis": null},
                    "y": {"datum": -0.5, "type": "quantitative", "scale": {"domain": [-0.5,2.5], "range": [0,48], "nice": false, "zero": false}, "axis": null}, "y2": {"datum": 2.5}}},
      {"data": {"name": "hb"}, "mark": {"type": "rule", "color": "#333", "strokeWidth": 1.2},
       "encoding": {"y": {"field": "b", "type": "quantitative", "scale": {"domain": [-0.5,2.5], "range": [0,48], "nice": false, "zero": false}, "axis": null},
                    "x": {"datum": 0, "type": "quantitative", "scale": {"domain": [0,1,2,3,4,5], "range": [-26,30,87,144,244,300], "nice": false, "zero": false}, "axis": null}, "x2": {"datum": 5}}},
      {"data": {"name": "cells"}, "transform": [{"filter": "datum.p==='d' && (datum.k==='h' || datum.k==='g' || datum.k==='b')"}],
       "mark": {"type": "text", "align": "left", "baseline": "middle", "dx": 3, "fontSize": 10.5},
       "encoding": {"x": {"field": "c", "type": "quantitative", "scale": {"domain": [0,1,2,3,4,5], "range": [-26,30,87,144,244,300], "nice": false, "zero": false}, "axis": null},
                    "y": {"field": "r", "type": "quantitative", "scale": {"domain": [-0.5,2.5], "range": [0,48], "nice": false, "zero": false}, "axis": null},
                    "text": {"field": "s"}, "color": {"field": "k", "type": "nominal", "scale": {"domain": ["h", "g", "b"], "range": ["#222222", "#2b9142", "#3b5fc6"]}, "legend": null}}},
      {"data": {"name": "cells"}, "transform": [{"filter": "datum.p==='d' && datum.k==='hi'"}],
       "mark": {"type": "text", "align": "left", "baseline": "middle", "dx": 3, "fontSize": 10.5, "fontStyle": "italic", "color": "#222"},
       "encoding": {"x": {"field": "c", "type": "quantitative", "scale": {"domain": [0,1,2,3,4,5], "range": [-26,30,87,144,244,300], "nice": false, "zero": false}, "axis": null},
                    "y": {"field": "r", "type": "quantitative", "scale": {"domain": [-0.5,2.5], "range": [0,48], "nice": false, "zero": false}, "axis": null}, "text": {"field": "s"}}},
      {"data": {"name": "cells"}, "transform": [{"filter": "datum.p==='d' && datum.k==='hv'"}],
       "mark": {"type": "text", "align": "left", "baseline": "middle", "dx": 10.5, "fontSize": 10.5, "color": "#222"},
       "encoding": {"x": {"field": "c", "type": "quantitative", "scale": {"domain": [0,1,2,3,4,5], "range": [-26,30,87,144,244,300], "nice": false, "zero": false}, "axis": null},
                    "y": {"field": "r", "type": "quantitative", "scale": {"domain": [-0.5,2.5], "range": [0,48], "nice": false, "zero": false}, "axis": null}, "text": {"field": "s"}}}
     ]}
  ]},
  {"spacing": 4, "resolve": {"scale": {"color": "independent"}}, "vconcat": [
    {"width": 288, "height": 174, "title": {"text": "f", "dy": 13},
     "resolve": {"axis": {"x": "independent", "y": "independent"}},
     "layer": [
      {"data": {"name": "one"}, "mark": {"type": "rule", "color": "#b5bec7", "strokeWidth": 1.5}, "encoding": {"x": {"datum": 0, "type": "quantitative", "scale": {"domain": [-0.37, 10.3], "nice": false, "zero": false}, "axis": null}}},
      {"data": {"name": "one"}, "mark": {"type": "rule", "color": "#c8c8c8", "strokeWidth": 1.5}, "encoding": {"y": {"datum": 0, "type": "quantitative", "scale": {"domain": [-0.05, 1.044], "nice": false, "zero": false}, "axis": null}}},
      {"data": {"name": "curves"}, "transform": [{"filter": "datum.p==='f'"}], "mark": {"type": "line", "interpolate": "step-after", "strokeWidth": 2.8},
       "encoding": {
        "x": {"field": "t", "type": "quantitative", "scale": {"domain": [-0.37, 10.3], "nice": false, "zero": false}, "axis": {"title": "Years", "values": [0, 2, 4, 6, 8, 10], "tickCount": 6, "format": "d", "titleFontWeight": "normal"}},
        "y": {"field": "v", "type": "quantitative", "scale": {"domain": [-0.05, 1.044], "nice": false, "zero": false}, "axis": {"title": "NRM", "values": [0, 0.1, 0.2, 0.3, 0.4, 0.5, 0.6, 0.7, 0.8, 0.9, 1.0], "tickCount": 11, "format": ".1f", "labelOverlap": false, "titleFontWeight": "normal"}},
        "color": {"field": "g", "type": "nominal", "scale": {"domain": ["MSD/MD", "MMD"], "range": ["#1c8a3a", "#2446ad"]}, "legend": null}}}
     ]},
    {"width": 302, "height": 48, "view": {"stroke": null},
     "layer": [
      {"data": {"name": "vb"}, "mark": {"type": "rule", "color": "#333", "strokeWidth": 1.2},
       "encoding": {"x": {"field": "b", "type": "quantitative", "scale": {"domain": [0,1,2,3,4,5], "range": [-25,32,89,145,245,302], "nice": false, "zero": false}, "axis": null},
                    "y": {"datum": -0.5, "type": "quantitative", "scale": {"domain": [-0.5,2.5], "range": [0,48], "nice": false, "zero": false}, "axis": null}, "y2": {"datum": 2.5}}},
      {"data": {"name": "hb"}, "mark": {"type": "rule", "color": "#333", "strokeWidth": 1.2},
       "encoding": {"y": {"field": "b", "type": "quantitative", "scale": {"domain": [-0.5,2.5], "range": [0,48], "nice": false, "zero": false}, "axis": null},
                    "x": {"datum": 0, "type": "quantitative", "scale": {"domain": [0,1,2,3,4,5], "range": [-25,32,89,145,245,302], "nice": false, "zero": false}, "axis": null}, "x2": {"datum": 5}}},
      {"data": {"name": "cells"}, "transform": [{"filter": "datum.p==='f' && (datum.k==='h' || datum.k==='g' || datum.k==='b')"}],
       "mark": {"type": "text", "align": "left", "baseline": "middle", "dx": 3, "fontSize": 10.5},
       "encoding": {"x": {"field": "c", "type": "quantitative", "scale": {"domain": [0,1,2,3,4,5], "range": [-25,32,89,145,245,302], "nice": false, "zero": false}, "axis": null},
                    "y": {"field": "r", "type": "quantitative", "scale": {"domain": [-0.5,2.5], "range": [0,48], "nice": false, "zero": false}, "axis": null},
                    "text": {"field": "s"}, "color": {"field": "k", "type": "nominal", "scale": {"domain": ["h", "g", "b"], "range": ["#222222", "#2b9142", "#3b5fc6"]}, "legend": null}}},
      {"data": {"name": "cells"}, "transform": [{"filter": "datum.p==='f' && datum.k==='hi'"}],
       "mark": {"type": "text", "align": "left", "baseline": "middle", "dx": 3, "fontSize": 10.5, "fontStyle": "italic", "color": "#222"},
       "encoding": {"x": {"field": "c", "type": "quantitative", "scale": {"domain": [0,1,2,3,4,5], "range": [-25,32,89,145,245,302], "nice": false, "zero": false}, "axis": null},
                    "y": {"field": "r", "type": "quantitative", "scale": {"domain": [-0.5,2.5], "range": [0,48], "nice": false, "zero": false}, "axis": null}, "text": {"field": "s"}}},
      {"data": {"name": "cells"}, "transform": [{"filter": "datum.p==='f' && datum.k==='hv'"}],
       "mark": {"type": "text", "align": "left", "baseline": "middle", "dx": 10.5, "fontSize": 10.5, "color": "#222"},
       "encoding": {"x": {"field": "c", "type": "quantitative", "scale": {"domain": [0,1,2,3,4,5], "range": [-25,32,89,145,245,302], "nice": false, "zero": false}, "axis": null},
                    "y": {"field": "r", "type": "quantitative", "scale": {"domain": [-0.5,2.5], "range": [0,48], "nice": false, "zero": false}, "axis": null}, "text": {"field": "s"}}}
     ]}
  ]}
]}
]
}
